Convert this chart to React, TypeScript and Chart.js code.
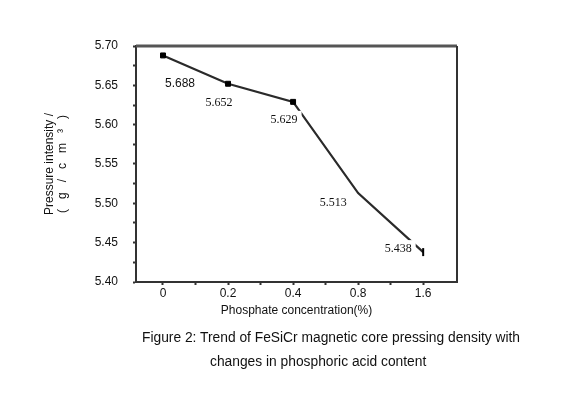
import React, { useEffect, useRef } from "react";
import { Chart, registerables } from "chart.js";

Chart.register(...registerables);

// ---- data ----
const categories: string[] = ["0", "0.2", "0.4", "0.8", "1.6"];
const densityValues: number[] = [5.688, 5.652, 5.629, 5.513, 5.438];
const valueLabels: string[] = ["5.688", "5.652", "5.629", "5.513", "5.438"];
const yTickMin = 5.4;
const yTickMax = 5.7;
const yTickStep = 0.025;
const xTitle = "Phosphate concentration(%)";
const yTitle: string[] = ["Pressure intensity /", "(   g   /   c   m   \u00B3   )"];
const captionLines: string[] = [
  "Figure 2: Trend of FeSiCr magnetic core pressing density with",
  "changes in phosphoric acid content",
];

// label placement (offset of label centre from its point, px)
const labelOffsets: [number, number][] = [
  [17, 28],
  [-9, 19],
  [-9, 18],
  [-25, 10],
  [-25, -3],
];
const labelFonts: string[] = [
  "12px 'Liberation Sans', Arial, sans-serif",
  "12px 'Liberation Serif', 'Times New Roman', serif",
  "12px 'Liberation Serif', 'Times New Roman', serif",
  "12px 'Liberation Serif', 'Times New Roman', serif",
  "12px 'Liberation Serif', 'Times New Roman', serif",
];

const SANS = "'Liberation Sans', Arial, sans-serif";

const frameBox = {
  id: "frameBox",
  beforeDatasetsDraw(chart: any) {
    const { ctx, chartArea } = chart;
    ctx.save();
    ctx.strokeStyle = "#555";
    ctx.lineWidth = 3;
    ctx.beginPath();
    ctx.moveTo(chartArea.left, chartArea.top);
    ctx.lineTo(chartArea.right, chartArea.top);
    ctx.stroke();
    ctx.strokeStyle = "#333";
    ctx.lineWidth = 2;
    ctx.beginPath();
    ctx.moveTo(chartArea.right, chartArea.top);
    ctx.lineTo(chartArea.right, chartArea.bottom);
    ctx.stroke();
    ctx.restore();
  },
};

const valueLabelPlugin = {
  id: "valueLabelPlugin",
  afterDatasetsDraw(chart: any) {
    const { ctx } = chart;
    const meta = chart.getDatasetMeta(0);
    ctx.save();
    meta.data.forEach((pt: any, i: number) => {
      const [dx, dy] = labelOffsets[i];
      const cx = pt.x + dx;
      const cy = pt.y + dy;
      ctx.font = labelFonts[i];
      const w = ctx.measureText(valueLabels[i]).width;
      ctx.fillStyle = "#ffffff";
      ctx.fillRect(cx - w / 2 - 4, cy - 9, w + 8, 18);
      ctx.fillStyle = "#111";
      ctx.textAlign = "center";
      ctx.textBaseline = "middle";
      ctx.fillText(valueLabels[i], cx, cy);
    });
    ctx.restore();
  },
};

export default function App() {
  const ref = useRef<HTMLCanvasElement | null>(null);

  useEffect(() => {
    if (!ref.current) return;
    const chart = new Chart(ref.current, {
      type: "line",
      data: {
        datasets: [
          {
            data: densityValues.map((v, i) => ({ x: i, y: v })),
            borderColor: "#2a2a2a",
            borderWidth: 2.2,
            backgroundColor: "#000",
            pointStyle: ["rect", "rect", "rect", "rect", "line"] as any,
            pointRotation: [0, 0, 0, 0, 90] as any,
            pointRadius: [3.5, 3.5, 3.5, 0, 4] as any,
            pointBorderColor: "#000",
            pointBorderWidth: [1, 1, 1, 1, 2] as any,
            tension: 0,
          },
        ],
      },
      options: {
        responsive: false,
        animation: false,
        devicePixelRatio: 1,
        layout: { padding: { left: 39, right: 123, top: 46, bottom: 84 } },
        plugins: {
          legend: { display: false },
          tooltip: { enabled: false },
        },
        scales: {
          x: {
            type: "linear",
            min: -0.415,
            max: 4.52,
            afterBuildTicks: (scale: any) => {
              const t: { value: number }[] = [];
              for (let k = 0; k <= (categories.length - 1) * 2; k++) t.push({ value: k / 2 });
              scale.ticks = t;
            },
            afterFit: (scale: any) => {
              scale.height = 40;
            },
            ticks: {
              autoSkip: false,
              maxRotation: 0,
              padding: 1,
              color: "#111",
              font: { family: SANS, size: 12 },
              callback: (v: any) => {
                const n = Number(v);
                return Number.isInteger(n) ? categories[n] ?? "" : "";
              },
            },
            grid: {
              display: true,
              drawOnChartArea: false,
              drawTicks: true,
              tickLength: 3,
              tickColor: "#333",
              tickWidth: 2,
            },
            border: { display: true, color: "#333", width: 2 },
            title: {
              display: true,
              text: xTitle,
              color: "#111",
              font: { family: SANS, size: 12 },
              padding: { top: 2, bottom: 4 },
            },
          },
          y: {
            type: "linear",
            min: yTickMin,
            max: yTickMax,
            afterFit: (scale: any) => {
              scale.width = 97;
            },
            ticks: {
              stepSize: yTickStep,
              includeBounds: false,
              padding: 15,
              color: "#111",
              font: { family: SANS, size: 12 },
              callback: (v: any) => {
                const n = Number(v);
                return Math.abs(n * 20 - Math.round(n * 20)) < 1e-6 ? n.toFixed(2) : "";
              },
            },
            grid: {
              display: true,
              drawOnChartArea: false,
              drawTicks: true,
              tickLength: 3,
              tickColor: "#333",
              tickWidth: 2,
            },
            border: { display: true, color: "#333", width: 2 },
            title: {
              display: true,
              text: yTitle,
              color: "#111",
              font: { family: SANS, size: 12, lineHeight: 1.1 },
              padding: { top: 4, bottom: 4 },
            },
          },
        },
      },
      plugins: [frameBox, valueLabelPlugin],
    });
    return () => chart.destroy();
  }, []);

  return (
    <div
      style={{
        position: "fixed",
        left: 0,
        top: 0,
        width: 580,
        height: 406,
        background: "#fff",
        fontFamily: SANS,
      }}
    >
      <canvas ref={ref} width={580} height={406} style={{ position: "absolute", left: 0, top: 0 }} />
      <div
        style={{
          position: "absolute",
          left: 142,
          top: 330,
          fontSize: 13.8,
          lineHeight: "16px",
          color: "#111",
          whiteSpace: "nowrap",
        }}
      >
        {captionLines[0]}
      </div>
      <div
        style={{
          position: "absolute",
          left: 210,
          top: 354,
          fontSize: 13.8,
          lineHeight: "16px",
          color: "#111",
          whiteSpace: "nowrap",
        }}
      >
        {captionLines[1]}
      </div>
    </div>
  );
}
